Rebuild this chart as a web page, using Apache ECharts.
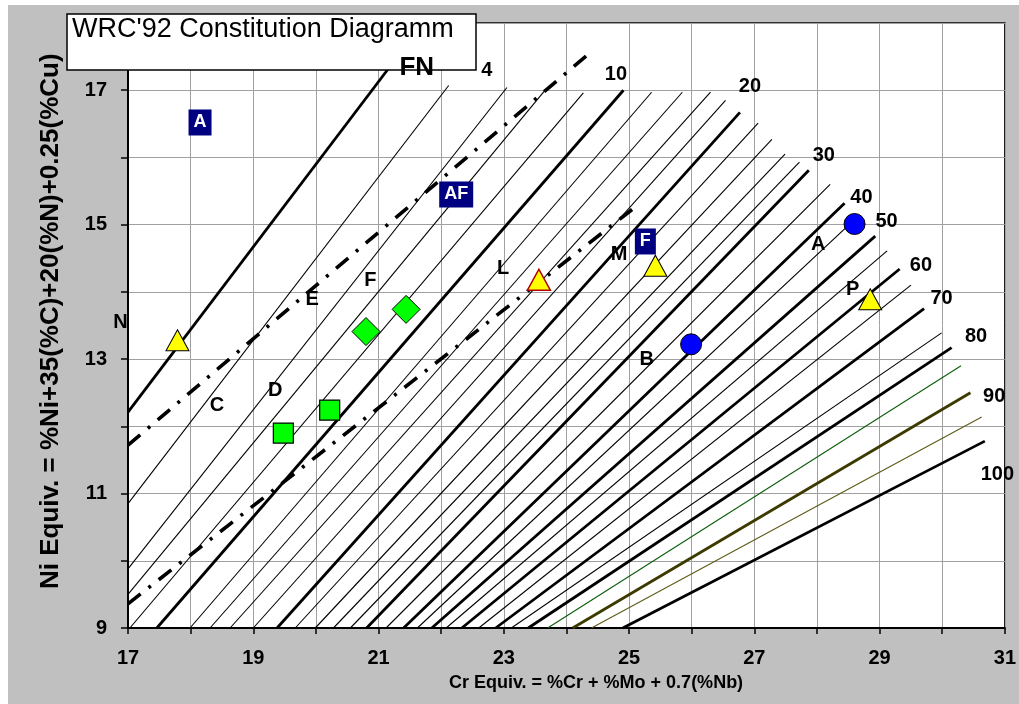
<!DOCTYPE html>
<html><head><meta charset="utf-8">
<script src="https://cdn.jsdelivr.net/npm/echarts/dist/echarts.min.js"></script>
<style>
html,body{margin:0;padding:0;background:#fff;}
#wrap{position:relative;width:1019px;height:704px;background:#fff;overflow:hidden;}
#bg{position:absolute;left:8px;top:5px;width:1011px;height:699px;background:#c0c0c0;}
#chart{position:absolute;left:0;top:0;width:1019px;height:704px;}
</style></head><body>
<div id="wrap"><div id="bg"></div><div id="chart"></div></div>
<script>
// ---- data ----
const fnLevels = [0,2,4,6,8,10,12,14,16,18,20,22,24,26,28,30,35,40,45,50,55,60,65,70,75,80,85,90,95,100];
const fnStartX = [17,17,17,17,17.03,17.46,17.99,18.31,18.63,19.00,19.38,19.67,19.99,20.28,20.55,20.81,21.12,21.40,21.62,21.85,22.08,22.33,22.60,22.87,23.12,23.39,23.70,24.10,24.40,24.90];
const fnStartY = [12.21,10.85,9.88,9.50,9,9,9,9,9,9,9,9,9,9,9,9,9,9,9,9,9,9,9,9,9,9,9,9,9,9];
const fnEndX = [21.71,22.12,23.05,23.66,24.27,24.91,25.36,25.85,26.30,26.54,26.77,27.06,27.28,27.49,27.72,27.87,28.21,28.44,28.57,28.93,29.12,29.32,29.50,29.71,29.99,30.15,30.30,30.45,30.63,30.68];
const fnEndY = [18.0,17.07,17.04,17.00,16.96,17.00,16.97,16.97,16.97,16.85,16.67,16.51,16.27,16.05,15.93,15.81,15.60,15.32,15.05,14.83,14.61,14.34,14.10,13.75,13.39,13.17,12.90,12.50,12.14,11.78];

const boundStartX = [17, 17];
const boundStartY = [11.72, 9.36];
const boundEndX = [24.43, 25.15];
const boundEndY = [17.60, 15.30];

const triX = [17.79, 23.56, 25.42, 28.85];
const triY = [13.28, 14.18, 14.39, 13.89];
const diamondX = [20.80, 21.44];
const diamondY = [13.41, 13.74];
const squareX = [19.48, 20.22];
const squareY = [11.90, 12.24];
const circleX = [25.99, 28.60];
const circleY = [13.22, 15.01];

const regionNames = ['A', 'AF', 'F'];
const regionX = [18.15, 22.24, 25.26];
const regionY = [16.52, 15.45, 14.75];

const letterNames = ['N','C','D','E','F','L','M','B','A','P'];
const letterX = [16.88, 18.42, 19.35, 19.94, 20.87, 22.99, 24.84, 25.28, 28.02, 28.57];
const letterY = [13.54, 12.31, 12.54, 13.88, 14.17, 14.35, 14.55, 13.00, 14.71, 14.03];

const fnTextNames = ['FN','4','10','20','30','40','50','60','70','80','90','100'];
const fnTextX = [21.61, 22.73, 24.79, 26.93, 28.11, 28.71, 29.11, 29.66, 29.99, 30.54, 30.83, 30.88];
const fnTextY = [17.34, 17.29, 17.24, 17.06, 16.03, 15.40, 15.05, 14.40, 13.90, 13.33, 12.44, 11.29];

const xTickMin = 17, xTickMax = 31, yTickMin = 9, yTickMax = 18;
const titleText = "WRC'92 Constitution Diagramm";
const yName = 'Ni Equiv. = %Ni+35(%C)+20(%N)+0.25(%Cu)';
const xName = 'Cr Equiv. = %Cr + %Mo + 0.7(%Nb)';

// ---- build chart ----
const FF = '"Liberation Sans", Arial, Helvetica, sans-serif';
const specialColor = {85: '#0b5c0b', 90: '#3d3a00', 95: '#5e5a16'};
function lineColor(fn){ return specialColor[fn] || '#000'; }
function lineWidth(fn){ return fn % 10 === 0 ? 2.8 : 1.1; }

const series = [];
fnLevels.forEach((fn, i) => {
  series.push({
    type: 'line', silent: true, animation: false, symbol: 'none', z: 2,
    data: [[fnStartX[i], fnStartY[i]], [fnEndX[i], fnEndY[i]]],
    lineStyle: {color: lineColor(fn), width: lineWidth(fn), cap: 'butt'}
  });
});
boundStartX.forEach((x, i) => {
  series.push({
    type: 'line', silent: true, animation: false, symbol: 'none', z: 3,
    data: [[x, boundStartY[i]], [boundEndX[i], boundEndY[i]]],
    lineStyle: {color: '#000', width: 3.6, type: [16, 10, 3, 10], cap: 'butt'}
  });
});
series.push({
  type: 'scatter', animation: false, z: 6, symbol: 'triangle', symbolSize: [23, 21],
  itemStyle: {color: '#ffff00', borderColor: '#000', borderWidth: 1, opacity: 1},
  data: triX.map((x, i) => i === 1 ? {value: [x, triY[i]], itemStyle: {borderColor: '#b00000', borderWidth: 1.5}} : [x, triY[i]])
});
series.push({
  type: 'scatter', animation: false, z: 6, symbol: 'diamond', symbolSize: [28, 28],
  itemStyle: {color: '#00ff00', borderColor: '#000', borderWidth: 1, opacity: 1},
  data: diamondX.map((x, i) => [x, diamondY[i]])
});
series.push({
  type: 'scatter', animation: false, z: 6, symbol: 'rect', symbolSize: [20, 20],
  itemStyle: {color: '#00ff00', borderColor: '#000', borderWidth: 1.2, opacity: 1},
  data: squareX.map((x, i) => [x, squareY[i]])
});
series.push({
  type: 'scatter', animation: false, z: 6, symbol: 'circle', symbolSize: 21,
  itemStyle: {color: '#0000ff', borderColor: '#000', borderWidth: 1, opacity: 1},
  data: circleX.map((x, i) => [x, circleY[i]])
});
function labelSeries(names, xs, ys, labelStyle, z, extra){
  return {
    type: 'scatter', animation: false, silent: true, z: z, clip: false,
    symbol: 'circle', symbolSize: 1, itemStyle: {color: 'rgba(0,0,0,0)', opacity: 1},
    label: Object.assign({show: true, position: 'inside', formatter: p => p.name,
      color: '#000', opacity: 1, fontFamily: FF, fontWeight: 'bold', fontSize: 20}, labelStyle),
    data: names.map((n, i) => {
      const d = {name: n, value: [xs[i], ys[i]]};
      if (extra) extra(d, n);
      return d;
    })
  };
}
series.push(labelSeries(letterNames, letterX, letterY, {}, 7));
series.push(labelSeries(regionNames, regionX, regionY,
  {color: '#fff', backgroundColor: '#000080', padding: [5, 5, 3, 5], fontSize: 18}, 8));
series.push(labelSeries(fnTextNames, fnTextX, fnTextY, {}, 110,
  (d, n) => { if (n === 'FN') d.label = {fontSize: 26}; }));

const option = {
  animation: false,
  textStyle: {fontFamily: FF},
  grid: {left: 128, right: 14, top: 23, bottom: 76, show: true, backgroundColor: '#fff', borderColor: '#000', borderWidth: 1.5},
  xAxis: {
    type: 'value', min: xTickMin, max: xTickMax, interval: 1,
    axisLine: {onZero: false, lineStyle: {color: '#000', width: 2}},
    axisTick: {length: 6, lineStyle: {color: '#000', width: 1.5}},
    axisLabel: {margin: 20, color: '#000', fontSize: 20, fontWeight: 'bold', fontFamily: FF,
      formatter: v => ((v - xTickMin) % 2 === 0 ? String(v) : '')},
    splitLine: {show: true, lineStyle: {color: '#a0a0a0', width: 1}}
  },
  yAxis: {
    type: 'value', min: yTickMin, max: yTickMax, interval: 1,
    axisLine: {onZero: false, lineStyle: {color: '#000', width: 2}},
    axisTick: {length: 7, lineStyle: {color: '#000', width: 1.5}},
    axisLabel: {margin: 21, color: '#000', fontSize: 20, fontWeight: 'bold', fontFamily: FF,
      formatter: v => ((v - yTickMin) % 2 === 0 ? String(v) : '')},
    splitLine: {show: true, lineStyle: {color: '#a0a0a0', width: 1}}
  },
  graphic: [
    {type: 'text', x: 51, y: 589, rotation: Math.PI / 2, z: 50,
      style: {text: yName, font: 'bold 26px ' + FF, fill: '#000', textAlign: 'left', textVerticalAlign: 'middle'}},
    {type: 'text', x: 596, y: 683, z: 50,
      style: {text: xName, font: 'bold 18px ' + FF, fill: '#000', textAlign: 'center', textVerticalAlign: 'middle'}},
    {type: 'rect', z: 100, shape: {x: 67, y: 14, width: 409, height: 56},
      style: {fill: '#fff', stroke: '#000', lineWidth: 1.5}},
    {type: 'text', x: 72, y: 16, z: 101,
      style: {text: titleText, font: '27px ' + FF, fill: '#000', textAlign: 'left', textVerticalAlign: 'top'}}
  ],
  series: series
};
const chart = echarts.init(document.getElementById('chart'), null, {renderer: 'canvas'});
chart.setOption(option);
</script>
</body></html>
